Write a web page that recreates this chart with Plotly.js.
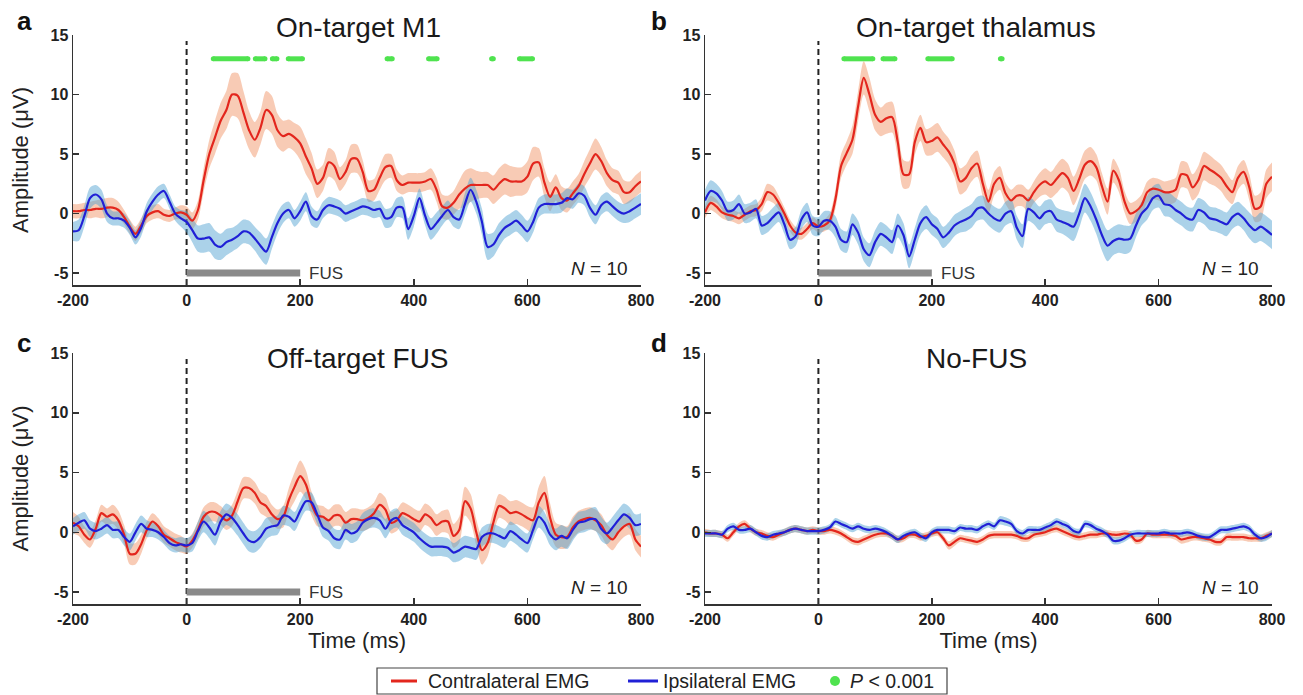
<!DOCTYPE html>
<html>
<head>
<meta charset="utf-8">
<script src="https://cdn.plot.ly/plotly-3.0.1.min.js"></script>
<style>html,body{margin:0;padding:0;background:#fff;}#chart{width:1303px;height:695px;}</style>
</head>
<body>
<div id="chart"></div>
<script>
// ---------------- DATA ----------------
const timeMs = [-200,-190,-180,-170,-160,-150,-140,-130,-120,-110,
 -100,-90,-80,-70,-60,-50,-40,-30,-20,-10,
 0,10,20,30,40,50,60,70,80,90,
 100,110,120,130,140,150,160,170,180,190,
 200,210,220,230,240,250,260,270,280,290,
 300,310,320,330,340,350,360,370,380,390,
 400,410,420,430,440,450,460,470,480,490,
 500,510,520,530,540,550,560,570,580,590,
 600,610,620,630,640,650,660,670,680,690,
 700,710,720,730,740,750,760,770,780,790,
 800];

const panelTitles = ['On-target M1','On-target thalamus','Off-target FUS','No-FUS'];
const panelLetters = ['a','b','c','d'];
const seriesNames = ['Contralateral EMG','Ipsilateral EMG'];
const sigLabel = 'P < 0.001';
const xTicks = [-200,0,200,400,600,800];
const yTicks = [-5,0,5,10,15];
const nSubjects = 10;
const onsetTime = 0;
const fusWindow = [0,200];
const fusLevel = -5;
const sigLevel = 13;

// Panel a: On-target M1
const contraA = [0.2,0.2,0.3,0.3,0.4,0.4,0.5,0.5,0.3,-0.3,
 -1.1,-1.7,-1.0,-0.2,0.1,0.2,-0.1,-0.2,0.0,0.1,
 -0.1,-0.6,0.3,2.8,5.0,6.4,7.8,8.7,10.0,9.9,
 8.5,7.0,6.2,7.2,8.7,8.3,7.0,6.5,6.7,6.4,
 5.9,4.8,3.8,2.5,3.0,4.3,4.0,2.9,3.5,4.6,
 4.6,3.5,1.9,2.0,3.0,3.9,4.0,2.8,2.4,2.6,
 2.6,2.6,2.7,2.9,2.0,0.6,0.5,0.9,1.6,2.1,
 2.4,2.4,2.4,2.4,2.0,2.5,2.9,2.7,2.7,2.7,
 3.1,4.2,4.3,2.6,1.4,2.2,1.3,1.1,1.7,2.3,
 3.3,4.2,5.0,4.4,3.4,2.8,2.6,1.8,1.8,2.3,
 2.7];
const contraSemA = [0.6,0.6,0.6,0.7,0.7,0.8,0.8,0.8,0.7,0.6,
 0.6,0.6,0.6,0.6,0.6,0.6,0.5,0.5,0.5,0.6,
 0.7,0.7,0.8,1.0,1.2,1.4,1.5,1.6,1.8,1.9,
 1.8,1.6,1.5,1.4,1.6,1.6,1.4,1.3,1.2,1.2,
 1.4,1.5,1.3,1.2,1.1,1.2,1.2,1.0,1.0,1.2,
 1.2,1.0,0.9,0.9,1.0,1.1,1.0,0.9,0.8,0.8,
 0.8,0.8,0.8,0.9,1.0,1.0,1.0,1.0,1.2,1.5,
 1.4,1.2,1.1,1.1,1.2,1.3,1.3,1.3,1.2,1.2,
 1.3,1.4,1.2,1.2,1.2,1.1,1.0,1.0,1.0,1.0,
 1.1,1.2,1.3,1.2,1.1,1.0,1.0,1.0,0.9,0.9,
 0.9];
const ipsiA = [-1.5,-1.4,-0.2,1.3,1.6,1.2,0.0,-0.4,-0.4,-0.6,
 -1.2,-2.0,-1.2,0.2,1.0,1.6,1.9,1.0,0.0,-0.4,
 -0.7,-1.4,-2.1,-2.1,-2.0,-2.6,-2.8,-2.4,-2.2,-1.9,
 -1.5,-1.6,-2.1,-2.7,-3.2,-2.0,-0.8,0.0,0.3,-0.4,
 0.2,1.0,-0.2,-0.5,0.3,0.7,0.6,0.4,0.0,0.2,
 0.4,0.6,0.5,0.3,0.4,-0.4,-0.3,0.5,0.5,-1.3,
 -0.2,1.3,-0.2,-1.3,-0.8,-0.2,0.3,-0.3,-0.5,0.8,
 2.0,1.0,-0.7,-2.8,-2.6,-1.8,-1.2,-0.9,-0.6,-1.0,
 -1.5,-0.7,0.5,0.8,0.8,0.8,0.9,1.3,1.2,1.7,
 1.5,0.5,-0.1,0.7,1.0,0.6,0.2,0.0,0.2,0.5,
 0.8];
const ipsiSemA = [0.8,0.9,0.9,0.9,0.8,0.8,0.7,0.6,0.6,0.6,
 0.6,0.6,0.7,0.7,0.7,0.7,0.6,0.6,0.6,0.7,
 0.9,1.0,1.1,1.2,1.2,1.2,1.1,1.1,1.0,1.0,
 1.0,1.0,1.0,1.1,1.1,1.0,0.9,0.8,0.7,0.7,
 0.8,0.8,0.8,0.7,0.7,0.7,0.7,0.7,0.7,0.7,
 0.7,0.7,0.7,0.7,0.7,0.8,0.8,0.8,0.9,0.9,
 0.9,0.8,0.8,0.9,0.9,0.8,0.8,0.8,0.8,0.9,
 1.0,1.0,1.1,1.1,1.0,1.0,0.9,0.9,0.9,0.9,
 0.9,0.9,0.8,0.8,0.8,0.8,0.8,0.8,0.8,0.8,
 0.8,0.8,0.8,0.8,0.8,0.8,0.8,0.8,0.9,0.9,
 0.9];
const sigStartA = [47,121,151,179,353,426,537,586];
const sigEndA   = [108,138,159,204,362,441,540,609];

// Panel b: On-target thalamus
const contraB = [0.1,0.9,0.6,0.1,-0.1,-0.2,-0.4,-0.1,0.2,0.3,
 0.8,1.8,1.6,0.9,0.0,-1.0,-1.6,-1.7,-1.3,-0.8,
 -1.1,-1.0,-0.6,1.2,4.0,5.1,6.2,9.0,11.4,10.0,
 8.3,7.7,8.0,8.1,6.0,3.3,3.3,6.0,7.2,6.0,
 6.1,6.4,5.8,5.2,4.2,2.7,3.0,3.8,4.2,2.5,
 1.0,2.5,3.0,1.7,1.1,1.5,1.5,1.1,1.8,2.4,
 2.7,2.4,2.9,3.4,3.0,1.9,2.9,4.1,4.4,3.9,
 2.3,1.0,3.6,2.8,1.0,0.0,0.2,0.7,1.8,2.1,
 2.0,1.8,1.8,2.0,3.3,3.2,2.2,2.8,4.0,3.7,
 3.4,3.0,2.3,1.8,3.0,3.5,2.2,0.4,0.6,2.5,
 3.1];
const contraSemB = [0.5,0.6,0.6,0.5,0.5,0.5,0.5,0.5,0.5,0.5,
 0.6,0.7,0.7,0.6,0.5,0.5,0.5,0.5,0.5,0.5,
 0.5,0.5,0.6,0.8,1.0,1.0,1.2,1.3,1.4,1.4,
 1.3,1.2,1.3,1.3,1.3,1.2,1.1,1.1,1.1,1.1,
 1.2,1.2,1.1,1.1,1.1,1.1,1.1,1.1,1.1,1.1,
 1.0,1.0,1.0,0.9,0.9,0.9,0.9,0.9,0.9,1.0,
 1.1,1.1,1.2,1.2,1.2,1.2,1.2,1.2,1.2,1.1,
 1.1,1.1,1.0,1.0,0.9,0.9,0.9,0.9,0.9,0.9,
 0.9,0.9,1.0,1.0,1.1,1.1,1.1,1.2,1.2,1.2,
 1.1,1.1,1.1,1.0,1.0,1.0,1.1,1.1,1.2,1.2,
 1.2];
const ipsiB = [1.1,1.9,1.7,1.1,0.2,0.3,0.8,0.0,0.1,0.4,
 -1.0,-0.8,-0.3,0.1,-0.9,-2.2,-1.9,-0.5,0.1,-1.0,
 -1.1,-0.6,-0.6,-1.1,-2.2,-2.4,-0.9,-1.6,-3.0,-3.5,
 -2.4,-1.7,-2.0,-2.4,-1.0,-1.8,-3.6,-2.2,-0.8,-0.3,
 -0.9,-1.3,-2.0,-1.6,-1.0,-0.7,-0.5,-0.2,0.4,0.5,
 0.0,-0.4,-0.6,0.0,0.2,-1.2,-1.9,0.4,0.1,-0.4,
 0.1,0.2,-0.5,-0.7,-0.9,-1.1,0.0,1.3,0.6,-0.5,
 -1.8,-2.7,-2.3,-2.1,-2.2,-2.1,-1.0,0.0,0.5,1.3,
 1.5,0.8,0.7,0.3,0.0,-0.4,-0.5,0.3,0.1,-0.4,
 -0.5,-0.7,-0.9,-0.3,0.0,-0.4,-1.0,-1.4,-1.1,-1.4,
 -1.8];
const ipsiSemB = [0.9,0.9,0.8,0.8,0.8,0.8,0.8,0.8,0.8,0.8,
 0.8,0.8,0.8,0.8,0.8,0.8,0.8,0.8,0.8,0.8,
 0.8,0.8,0.8,0.9,0.9,0.9,0.9,1.0,1.0,1.0,
 1.0,1.0,1.0,1.0,1.0,1.0,1.0,1.0,1.0,1.0,
 0.9,0.9,0.9,0.9,0.9,0.9,1.0,1.0,1.0,1.0,
 1.0,1.0,1.0,1.0,1.0,1.0,1.0,1.0,1.0,1.0,
 1.0,1.0,1.0,1.0,1.1,1.2,1.2,1.2,1.2,1.2,
 1.3,1.3,1.2,1.2,1.2,1.1,1.0,1.0,1.0,1.0,
 1.0,1.0,1.0,1.0,1.0,1.0,1.0,1.0,1.0,1.0,
 1.0,1.0,1.0,1.0,1.0,1.0,1.1,1.1,1.2,1.2,
 1.2];
const sigStartB = [45,114,193,321];
const sigEndB   = [96,135,236,324];

// Panel c: Off-target FUS
const contraC = [0.8,0.5,-0.2,-0.6,0.3,1.6,1.3,1.5,1.0,-0.2,
 -1.8,-1.8,-1.0,0.2,0.9,0.5,-0.2,-0.5,-0.8,-1.0,
 -1.2,-0.7,0.2,1.3,1.7,1.7,1.4,1.0,1.4,2.6,
 3.7,3.7,3.3,2.5,2.2,1.5,1.1,1.3,2.7,3.8,
 4.7,4.0,2.4,1.4,1.3,1.0,1.4,1.4,0.8,1.1,
 1.1,1.0,1.2,1.6,2.3,1.9,0.8,1.0,1.6,1.4,
 1.1,0.9,1.5,1.2,0.6,0.9,0.9,-0.3,0.2,2.6,
 2.0,0.0,-1.5,-0.9,0.8,2.2,2.0,1.6,1.7,1.5,
 1.2,1.0,2.5,3.3,1.2,-0.2,-0.4,-0.4,0.4,0.9,
 1.1,1.2,1.0,0.6,-0.2,-0.6,0.0,0.5,0.7,-0.6,
 -1.2];
const contraSemC = [0.9,0.8,0.7,0.7,0.7,0.7,0.7,0.8,0.8,0.8,
 0.9,0.9,0.8,0.7,0.7,0.7,0.7,0.7,0.7,0.7,
 0.6,0.6,0.7,0.8,0.8,0.8,0.8,0.8,0.9,0.9,
 0.9,0.9,0.9,0.9,0.9,0.8,0.8,0.9,1.0,1.2,
 1.3,1.2,1.0,0.9,0.9,0.9,0.9,0.9,0.9,0.9,
 0.9,0.9,0.9,0.9,1.0,1.0,0.9,0.9,0.9,0.9,
 0.9,0.9,0.9,0.9,0.9,0.9,1.0,1.0,1.1,1.2,
 1.2,1.1,1.2,1.1,1.0,1.0,1.0,1.0,1.0,1.0,
 1.0,1.1,1.3,1.4,1.2,1.0,1.0,0.9,0.9,0.9,
 0.9,0.9,0.9,0.9,0.9,0.9,0.9,0.9,0.9,0.9,
 0.9];
const ipsiC = [0.5,0.8,1.0,0.3,0.1,0.3,0.6,0.2,0.2,-0.4,
 -0.8,0.0,0.7,0.3,0.2,0.0,-0.4,-0.9,-1.1,-1.0,
 -1.1,-0.9,0.1,0.9,0.4,-0.2,0.9,1.5,1.2,0.6,
 -0.1,-0.7,-0.8,-0.4,0.3,0.5,0.6,1.4,1.3,0.9,
 1.8,2.6,2.5,1.5,0.4,0.1,-0.5,-0.6,0.2,-0.1,
 0.1,0.8,1.1,1.2,1.0,0.3,1.0,1.2,0.6,0.3,
 0.0,-0.5,-0.9,-1.2,-1.2,-1.2,-1.3,-1.7,-1.5,-1.2,
 -1.3,-1.4,-0.4,-0.1,-0.1,-0.3,-0.5,0.1,-0.2,-0.6,
 -0.9,0.2,1.3,0.8,-0.2,-0.6,-0.3,-0.5,0.2,0.8,
 0.9,1.1,1.1,0.3,-0.1,0.4,1.0,1.5,1.2,0.6,
 0.7];
const ipsiSemC = [0.7,0.7,0.7,0.7,0.7,0.7,0.7,0.7,0.7,0.7,
 0.7,0.7,0.7,0.7,0.6,0.6,0.6,0.6,0.6,0.6,
 0.6,0.7,0.8,0.9,0.9,0.9,0.9,0.9,0.9,0.9,
 0.9,0.9,0.9,0.9,0.9,0.8,0.8,0.8,0.8,0.8,
 0.8,0.8,0.8,0.8,0.8,0.8,0.8,0.8,0.8,0.8,
 0.8,0.8,0.8,0.8,0.8,0.8,0.8,0.8,0.8,0.8,
 0.8,0.8,0.8,0.8,0.8,0.8,0.8,0.8,0.9,0.9,
 0.9,0.9,0.8,0.8,0.8,0.8,0.8,0.8,0.8,0.8,
 0.8,0.8,0.9,0.9,0.9,0.9,0.9,0.9,0.9,0.9,
 0.9,0.9,1.0,1.0,0.9,0.9,0.9,0.9,0.9,0.9,
 0.9];

// Panel d: No-FUS
const contraD = [0.0,-0.1,-0.1,-0.2,-0.5,0.0,0.5,0.7,0.3,0.0,
 -0.1,-0.3,-0.4,-0.2,0.0,0.2,0.3,0.2,0.1,0.2,
 0.1,0.1,0.2,0.1,-0.1,-0.4,-0.7,-0.8,-0.6,-0.4,
 -0.2,-0.1,-0.1,-0.3,-0.6,-0.5,-0.2,-0.2,-0.4,-0.3,
 -0.1,0.0,-0.5,-1.1,-0.8,-0.5,-0.6,-0.7,-0.8,-0.6,
 -0.3,-0.2,-0.2,-0.2,-0.2,-0.3,-0.5,-0.5,-0.2,-0.1,
 0.0,0.2,0.3,0.1,-0.1,-0.3,-0.4,-0.3,-0.2,-0.2,
 -0.1,-0.1,-0.2,-0.2,-0.1,-0.2,-0.7,-0.6,-0.1,-0.2,
 -0.2,-0.2,-0.2,-0.3,-0.6,-0.5,-0.4,-0.4,-0.5,-0.6,
 -0.8,-0.8,-0.4,-0.4,-0.4,-0.4,-0.5,-0.5,-0.5,-0.3,
 -0.1];
const contraSemD = [0.3,0.3,0.3,0.3,0.3,0.3,0.3,0.3,0.3,0.3,
 0.3,0.3,0.3,0.3,0.3,0.3,0.3,0.3,0.3,0.3,
 0.3,0.3,0.3,0.3,0.3,0.3,0.3,0.3,0.3,0.3,
 0.3,0.3,0.3,0.3,0.3,0.3,0.3,0.3,0.3,0.3,
 0.3,0.3,0.3,0.35,0.35,0.3,0.3,0.3,0.3,0.3,
 0.3,0.3,0.3,0.3,0.3,0.3,0.3,0.3,0.3,0.3,
 0.3,0.3,0.3,0.3,0.3,0.3,0.3,0.3,0.3,0.3,
 0.3,0.3,0.3,0.3,0.3,0.3,0.3,0.3,0.3,0.3,
 0.3,0.3,0.3,0.35,0.35,0.35,0.3,0.3,0.3,0.3,
 0.3,0.3,0.3,0.3,0.3,0.3,0.3,0.3,0.3,0.3,
 0.3];
const ipsiD = [-0.1,-0.1,-0.1,-0.2,0.3,0.5,0.2,0.2,0.3,0.0,
 -0.3,-0.4,-0.2,-0.1,0.0,0.2,0.3,0.2,0.1,0.1,
 0.1,0.2,0.4,0.9,0.7,0.5,0.3,0.5,0.3,0.2,
 0.3,0.2,0.0,-0.3,-0.6,-0.3,-0.1,0.0,-0.3,-0.5,
 0.0,0.2,0.2,0.2,0.1,0.4,0.3,0.3,0.2,0.5,
 0.7,0.5,1.0,0.9,0.7,0.1,-0.1,0.2,0.2,0.2,
 0.4,0.6,0.9,0.7,0.5,0.1,0.0,0.7,0.6,0.3,
 0.1,-0.2,-0.7,-0.7,-0.5,-0.2,-0.1,-0.1,-0.1,-0.1,
 -0.1,0.0,-0.1,-0.1,-0.1,0.0,-0.1,-0.3,-0.4,-0.4,
 -0.1,0.2,0.2,0.3,0.4,0.5,0.3,-0.2,-0.5,-0.4,
 -0.1];
const ipsiSemD = [0.3,0.3,0.3,0.3,0.3,0.3,0.3,0.3,0.3,0.3,
 0.3,0.3,0.3,0.3,0.3,0.3,0.3,0.3,0.3,0.3,
 0.3,0.3,0.3,0.3,0.3,0.3,0.3,0.3,0.3,0.3,
 0.3,0.3,0.3,0.3,0.3,0.3,0.3,0.3,0.3,0.3,
 0.3,0.3,0.3,0.3,0.3,0.3,0.3,0.3,0.3,0.3,
 0.3,0.3,0.35,0.35,0.3,0.3,0.3,0.3,0.3,0.3,
 0.3,0.3,0.3,0.3,0.3,0.3,0.3,0.3,0.3,0.3,
 0.3,0.3,0.3,0.3,0.3,0.3,0.3,0.3,0.3,0.3,
 0.3,0.3,0.3,0.3,0.3,0.3,0.3,0.3,0.3,0.3,
 0.3,0.3,0.3,0.3,0.3,0.3,0.3,0.3,0.3,0.3,
 0.3];

// ---------------- STYLE ----------------
const W = 1303, H = 695;
const RED = '#e3261d', BLUE = '#2020d6', GREEN = '#4fe34f', GREY = '#8a8a8a';
const RED_BAND = 'rgba(240,140,90,0.45)', BLUE_BAND = 'rgba(80,160,210,0.48)';
const FONT = 'Liberation Sans, Arial, Helvetica, sans-serif';
const fx = p => p / W;
const fy = p => 1 - p / H;

const panels = [
  {contra: contraA, cSem: contraSemA, ipsi: ipsiA, iSem: ipsiSemA, sig: [sigStartA, sigEndA], fus: true},
  {contra: contraB, cSem: contraSemB, ipsi: ipsiB, iSem: ipsiSemB, sig: [sigStartB, sigEndB], fus: true},
  {contra: contraC, cSem: contraSemC, ipsi: ipsiC, iSem: ipsiSemC, sig: null, fus: true},
  {contra: contraD, cSem: contraSemD, ipsi: ipsiD, iSem: ipsiSemD, sig: null, fus: false}
];

// pixel geometry of each panel (x: -200..800, y: -6..15)
const xDom = [[73, 641], [705, 1272], [73, 641], [705, 1272]];
const yDom = [[35, 285], [35, 285], [353, 604], [353, 604]];

const traces = [];
function band(mean, sem, color, xa, ya) {
  const up = mean.map((v, i) => v + sem[i]);
  const lo = mean.map((v, i) => v - sem[i]);
  traces.push({x: timeMs, y: up, xaxis: xa, yaxis: ya, mode: 'lines', line: {width: 0, shape: 'spline', smoothing: 0.8}, hoverinfo: 'skip', showlegend: false});
  traces.push({x: timeMs, y: lo, xaxis: xa, yaxis: ya, mode: 'lines', line: {width: 0, shape: 'spline', smoothing: 0.8}, fill: 'tonexty', fillcolor: color, hoverinfo: 'skip', showlegend: false});
}

panels.forEach((p, k) => {
  const xa = k === 0 ? 'x' : 'x' + (k + 1);
  const ya = k === 0 ? 'y' : 'y' + (k + 1);
  // onset dashed line
  traces.push({x: [onsetTime, onsetTime], y: [-6, 14.5], xaxis: xa, yaxis: ya, mode: 'lines', line: {color: '#222', width: 2, dash: '6px,4px'}, hoverinfo: 'skip', showlegend: false});
  if (p.fus) {
    traces.push({x: fusWindow, y: [fusLevel, fusLevel], xaxis: xa, yaxis: ya, mode: 'lines', line: {color: GREY, width: 7}, hoverinfo: 'skip', showlegend: false});
  }
  band(p.contra, p.cSem, RED_BAND, xa, ya);
  band(p.ipsi, p.iSem, BLUE_BAND, xa, ya);
  traces.push({x: timeMs, y: p.contra, xaxis: xa, yaxis: ya, mode: 'lines', name: seriesNames[0], line: {color: RED, width: 2.2, shape: 'spline', smoothing: 0.8}, showlegend: false});
  traces.push({x: timeMs, y: p.ipsi, xaxis: xa, yaxis: ya, mode: 'lines', name: seriesNames[1], line: {color: BLUE, width: 2.2, shape: 'spline', smoothing: 0.8}, showlegend: false});
  if (p.sig) {
    const sx = [], sy = [];
    p.sig[0].forEach((s, i) => { sx.push(s, p.sig[1][i], null); sy.push(sigLevel, sigLevel, null); });
    traces.push({x: sx, y: sy, xaxis: xa, yaxis: ya, mode: 'lines+markers', name: sigLabel, line: {color: GREEN, width: 5}, marker: {color: GREEN, size: 5}, connectgaps: false, hoverinfo: 'skip', showlegend: false});
  }
});

const axisBase = {
  showline: true, linecolor: '#333', linewidth: 1.5, ticks: 'inside', ticklen: 6, tickwidth: 1.5, tickcolor: '#333',
  showgrid: false, zeroline: false, tickfont: {family: FONT, size: 16, color: '#222', weight: 'bold'}, fixedrange: true
};

const layout = {
  width: W, height: H, margin: {l: 0, r: 0, t: 0, b: 0}, paper_bgcolor: '#fff', plot_bgcolor: 'rgba(0,0,0,0)',
  showlegend: false, font: {family: FONT, color: '#222'}, annotations: [], shapes: []
};

for (let k = 0; k < 4; k++) {
  const sfx = k === 0 ? '' : String(k + 1);
  const xa = Object.assign({}, axisBase, {
    domain: [fx(xDom[k][0]), fx(xDom[k][1])], range: [-200, 800], tickvals: xTicks, ticktext: xTicks.map(String),
    anchor: 'y' + sfx
  });
  const ya = Object.assign({}, axisBase, {
    domain: [fy(yDom[k][1]), fy(yDom[k][0])], range: [-6, 15], tickvals: yTicks, ticktext: yTicks.map(String),
    anchor: 'x' + sfx
  });
  if (k >= 2) xa.title = {text: 'Time (ms)', font: {family: FONT, size: 22, color: '#222'}, standoff: 6};
  if (k % 2 === 0) ya.title = {text: 'Amplitude (μV)', font: {family: FONT, size: 22, color: '#222'}, standoff: 16};
  layout['xaxis' + sfx] = xa;
  layout['yaxis' + sfx] = ya;

  // panel title and letter
  const titleX = k % 2 === 0 ? 358 : 976;
  const titleY = k < 2 ? 27 : 358;
  layout.annotations.push({text: panelTitles[k], xref: 'paper', yref: 'paper', x: fx(titleX), y: fy(titleY), xanchor: 'center', yanchor: 'middle', showarrow: false, font: {family: FONT, size: 28, color: '#1a1a1a'}});
  const letX = k % 2 === 0 ? 24 : 659;
  const letY = k < 2 ? 21 : 343;
  layout.annotations.push({text: '<b>' + panelLetters[k] + '</b>', xref: 'paper', yref: 'paper', x: fx(letX), y: fy(letY), xanchor: 'center', yanchor: 'middle', showarrow: false, font: {family: FONT, size: 26, color: '#111'}});
  // N = 10
  layout.annotations.push({text: '<i>N</i> = ' + nSubjects, xref: 'x' + sfx, yref: 'y' + sfx, x: 780, y: -4.6, xanchor: 'right', yanchor: 'middle', showarrow: false, font: {family: FONT, size: 19, color: '#222'}});
  if (panels[k].fus) {
    layout.annotations.push({text: 'FUS', xref: 'x' + sfx, yref: 'y' + sfx, x: fusWindow[1] + 12, y: fusLevel, xanchor: 'left', yanchor: 'middle', showarrow: false, font: {family: FONT, size: 17, color: '#333'}});
  }
}

// legend box (drawn manually)
layout.shapes.push({type: 'rect', xref: 'paper', yref: 'paper', x0: fx(377), x1: fx(947), y0: fy(694), y1: fy(668), line: {color: '#444', width: 1.2}, fillcolor: 'rgba(0,0,0,0)'});
layout.shapes.push({type: 'line', xref: 'paper', yref: 'paper', x0: fx(391), x1: fx(417), y0: fy(681), y1: fy(681), line: {color: RED, width: 3}});
layout.shapes.push({type: 'line', xref: 'paper', yref: 'paper', x0: fx(628), x1: fx(658), y0: fy(681), y1: fy(681), line: {color: BLUE, width: 3}});
layout.shapes.push({type: 'circle', xref: 'paper', yref: 'paper', x0: fx(830), x1: fx(840), y0: fy(686), y1: fy(676), line: {width: 0}, fillcolor: GREEN});
layout.annotations.push({text: seriesNames[0], xref: 'paper', yref: 'paper', x: fx(426), y: fy(681), xanchor: 'left', yanchor: 'middle', showarrow: false, font: {family: FONT, size: 19.5, color: '#222'}});
layout.annotations.push({text: seriesNames[1], xref: 'paper', yref: 'paper', x: fx(661), y: fy(681), xanchor: 'left', yanchor: 'middle', showarrow: false, font: {family: FONT, size: 19.5, color: '#222'}});
layout.annotations.push({text: '<i>P</i> &lt; 0.001', xref: 'paper', yref: 'paper', x: fx(848), y: fy(681), xanchor: 'left', yanchor: 'middle', showarrow: false, font: {family: FONT, size: 19.5, color: '#222'}});

Plotly.newPlot('chart', traces, layout, {displayModeBar: false, staticPlot: true});
</script>
</body>
</html>
